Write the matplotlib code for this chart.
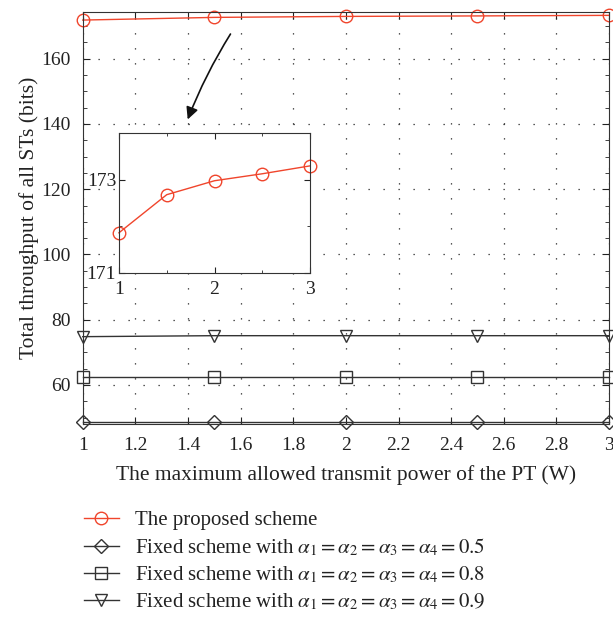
import matplotlib.pyplot as plt
from matplotlib.ticker import MultipleLocator

plt.rcParams['font.family'] = ['Liberation Serif', 'DejaVu Serif']
plt.rcParams['mathtext.fontset'] = 'stix'

# data
power = [1, 1.5, 2, 2.5, 3]
proposed = [171.86, 172.68, 172.98, 173.13, 173.30]
fixed_05 = [48.7, 48.7, 48.7, 48.7, 48.7]
fixed_08 = [62.5, 62.5, 62.5, 62.5, 62.5]
fixed_09 = [74.8, 75.1, 75.1, 75.1, 75.1]
xticks = [1, 1.2, 1.4, 1.6, 1.8, 2, 2.2, 2.4, 2.6, 2.8, 3]
xticklabels = ['1', '1.2', '1.4', '1.6', '1.8', '2', '2.2', '2.4', '2.6', '2.8', '3']

labels = ['The proposed scheme',
          r'Fixed scheme with $\alpha_1=\alpha_2=\alpha_3=\alpha_4=0.5$',
          r'Fixed scheme with $\alpha_1=\alpha_2=\alpha_3=\alpha_4=0.8$',
          r'Fixed scheme with $\alpha_1=\alpha_2=\alpha_3=\alpha_4=0.9$']

red = '#f0452c'
dark = '#333333'
fig = plt.figure(figsize=(6.13, 6.20), dpi=100)
ax = fig.add_axes([0.135, 0.316, 0.8585, 0.665])

l1, = ax.plot(power, proposed, '-o', color=red, markeredgecolor=red, markersize=9,
              markerfacecolor='none', linewidth=1.0, clip_on=False)
l2, = ax.plot(power, fixed_05, '-D', color=dark, markeredgecolor=dark,
              markersize=7, markerfacecolor='none', linewidth=1.0, clip_on=False)
l3, = ax.plot(power, fixed_08, '-s', color=dark, markeredgecolor=dark,
              markersize=8, markerfacecolor='none', linewidth=1.0, clip_on=False)
l4, = ax.plot(power, fixed_09, '-v', color=dark, markeredgecolor=dark, markersize=9,
              markerfacecolor='none', linewidth=1.0, clip_on=False)

ax.set_xlim(1, 3)
ax.set_ylim(48, 174.4)
ax.set_xticks(xticks)
ax.set_xticklabels(xticklabels)
ax.yaxis.set_major_locator(MultipleLocator(20))
ax.yaxis.set_minor_locator(MultipleLocator(5))
ax.tick_params(which='both', direction='in', top=True, right=True, labelsize=14, colors='#222222')
ax.tick_params(which='major', length=5)
ax.tick_params(axis='y', which='major', pad=9)
ax.tick_params(axis='x', which='major', pad=9)
ax.tick_params(which='minor', length=3)
ax.grid(True, which='major', linestyle=(0, (1, 11)), color='#222222', linewidth=0.9)
for s in ax.spines.values():
    s.set_color(dark)
ax.set_xlabel('The maximum allowed transmit power of the PT (W)', fontsize=15.5, color='#222222', labelpad=8)
ax.set_ylabel('Total throughput of all STs (bits)', fontsize=15.5, color='#222222', labelpad=1)

ax.annotate('', xy=(1.395, 140.6), xytext=(1.567, 168.3),
            arrowprops=dict(arrowstyle='-|>', color='#111111', lw=1.2,
                            mutation_scale=18, connectionstyle='arc3,rad=0.05'))

ins = fig.add_axes([0.194, 0.560, 0.312, 0.225])
ins.plot(power, proposed, '-o', color=red, markeredgecolor=red, markersize=9,
         markerfacecolor='none', linewidth=1.0, clip_on=False)
ins.set_xlim(1, 3)
ins.set_ylim(171, 174)
ins.set_xticks([1, 2, 3])
ins.set_xticklabels(['1', '2', '3'])
ins.set_yticks([171, 173])
ins.set_yticklabels(['171', '173'])
ins.xaxis.set_minor_locator(MultipleLocator(0.5))
ins.yaxis.set_minor_locator(MultipleLocator(1))
ins.tick_params(which='both', direction='in', top=True, right=True, labelsize=14, colors='#222222')
ins.tick_params(axis='x', pad=6)
ins.tick_params(axis='y', pad=2)
ins.tick_params(which='major', length=4)
ins.tick_params(which='minor', length=2)
for s in ins.spines.values():
    s.set_color(dark)

fig.legend([l1, l2, l3, l4], labels, loc='upper left', bbox_to_anchor=(0.106, 0.207),
           frameon=False, fontsize=15, handlelength=1.7, labelspacing=0.3,
           handletextpad=0.75, labelcolor='#222222')

fig.savefig('out.png', dpi=100)
